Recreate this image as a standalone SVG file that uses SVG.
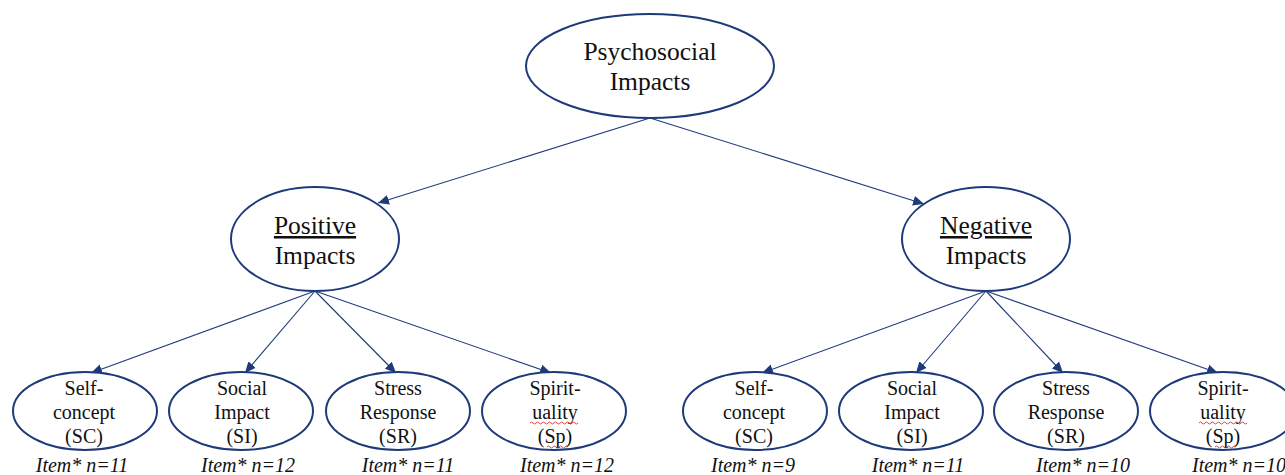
<svg xmlns="http://www.w3.org/2000/svg" width="1285" height="475" viewBox="0 0 1285 475">
<style>
.node{fill:#fff;stroke:#1f3a7a;stroke-width:2}
.t{font-family:'Liberation Serif','Times New Roman',serif;fill:#111;text-anchor:middle}
.big{font-size:25.5px}
.sm{font-size:20px}
.it{font-family:'Liberation Serif','Times New Roman',serif;font-style:italic;font-size:20px;fill:#111;text-anchor:middle}
.c{stroke:#1f3a7a;stroke-width:1.1;fill:none;marker-end:url(#ah)}
.spell{stroke:#e03030;stroke-width:0.9;fill:none}
</style>
<defs>
<marker id="ah" viewBox="0 0 10 10" refX="10" refY="5" markerWidth="11" markerHeight="11" markerUnits="userSpaceOnUse" orient="auto">
<path d="M0,0.5 L10,5 L0,9.5 Z" fill="#1f3a7a"/>
</marker>
</defs>
<rect width="1285" height="475" fill="#fff"/>
<g id="connectors">
<line class="c" x1="650" y1="118" x2="378" y2="203"/>
<line class="c" x1="650" y1="118" x2="924" y2="204"/>
<line class="c" x1="315" y1="291" x2="91" y2="373"/>
<line class="c" x1="315" y1="291" x2="245" y2="373"/>
<line class="c" x1="315" y1="291" x2="396" y2="373"/>
<line class="c" x1="315" y1="291" x2="551" y2="373"/>
<line class="c" x1="986" y1="291" x2="762" y2="373"/>
<line class="c" x1="986" y1="291" x2="916" y2="373"/>
<line class="c" x1="986" y1="291" x2="1063" y2="373"/>
<line class="c" x1="986" y1="291" x2="1218" y2="373"/>
</g>
<g id="psychosocial">
<ellipse class="node" cx="650" cy="66" rx="124" ry="52"/>
<text class="t big" x="650" y="60">Psychosocial</text>
<text class="t big" x="650" y="90">Impacts</text>
</g>
<g id="positive">
<ellipse class="node" cx="315" cy="239" rx="84" ry="52"/>
<text class="t big" x="315" y="234" text-decoration="underline">Positive</text>
<text class="t big" x="315" y="264">Impacts</text>
</g>
<g id="negative">
<ellipse class="node" cx="986" cy="239" rx="84" ry="52"/>
<text class="t big" x="986" y="234" text-decoration="underline">Negative</text>
<text class="t big" x="986" y="264">Impacts</text>
</g>
<g id="pos-sc">
<ellipse class="node" cx="85" cy="411" rx="72" ry="39"/>
<text class="t sm" x="84" y="395">Self-</text>
<text class="t sm" x="84" y="419">concept</text>
<text class="t sm" x="84" y="443">(SC)</text>
<text class="it" x="82" y="472">Item* n=11</text>
</g>
<g id="pos-si">
<ellipse class="node" cx="241" cy="411" rx="72" ry="39"/>
<text class="t sm" x="242" y="395">Social</text>
<text class="t sm" x="242" y="419">Impact</text>
<text class="t sm" x="242" y="443">(SI)</text>
<text class="it" x="248" y="472">Item* n=12</text>
</g>
<g id="pos-sr">
<ellipse class="node" cx="398" cy="411" rx="72" ry="39"/>
<text class="t sm" x="398" y="395">Stress</text>
<text class="t sm" x="398" y="419">Response</text>
<text class="t sm" x="398" y="443">(SR)</text>
<text class="it" x="408" y="472">Item* n=11</text>
</g>
<g id="pos-sp">
<ellipse class="node" cx="554" cy="411" rx="72" ry="39"/>
<text class="t sm" x="555" y="395">Spirit-</text>
<text class="t sm" x="555" y="419">uality</text>
<text class="t sm" x="555" y="443">(Sp)</text>
<path class="spell" d="M530,423 q1.5,-2 3,0 t3,0 t3,0 t3,0 t3,0 t3,0 t3,0 t3,0 t3,0 t3,0 t3,0 t3,0 t3,0 t3,0 t3,0 t3,0"/>
<path class="spell" d="M547,447 q1.5,-2 3,0 t3,0 t3,0 t3,0 t3,0 t3,0 t3,0"/>
<text class="it" x="567" y="472">Item* n=12</text>
</g>
<g id="neg-sc">
<ellipse class="node" cx="755" cy="411" rx="72" ry="39"/>
<text class="t sm" x="754" y="395">Self-</text>
<text class="t sm" x="754" y="419">concept</text>
<text class="t sm" x="754" y="443">(SC)</text>
<text class="it" x="753" y="472">Item* n=9</text>
</g>
<g id="neg-si">
<ellipse class="node" cx="911" cy="411" rx="72" ry="39"/>
<text class="t sm" x="912" y="395">Social</text>
<text class="t sm" x="912" y="419">Impact</text>
<text class="t sm" x="912" y="443">(SI)</text>
<text class="it" x="918" y="472">Item* n=11</text>
</g>
<g id="neg-sr">
<ellipse class="node" cx="1066" cy="411" rx="72" ry="39"/>
<text class="t sm" x="1066" y="395">Stress</text>
<text class="t sm" x="1066" y="419">Response</text>
<text class="t sm" x="1066" y="443">(SR)</text>
<text class="it" x="1083" y="472">Item* n=10</text>
</g>
<g id="neg-sp">
<ellipse class="node" cx="1223" cy="411" rx="73" ry="39"/>
<text class="t sm" x="1223" y="395">Spirit-</text>
<text class="t sm" x="1223" y="419">uality</text>
<text class="t sm" x="1223" y="443">(Sp)</text>
<path class="spell" d="M1199,423 q1.5,-2 3,0 t3,0 t3,0 t3,0 t3,0 t3,0 t3,0 t3,0 t3,0 t3,0 t3,0 t3,0 t3,0 t3,0 t3,0 t3,0"/>
<path class="spell" d="M1215,447 q1.5,-2 3,0 t3,0 t3,0 t3,0 t3,0 t3,0 t3,0"/>
<text class="it" x="1239" y="472">Item* n=10</text>
</g>
</svg>
